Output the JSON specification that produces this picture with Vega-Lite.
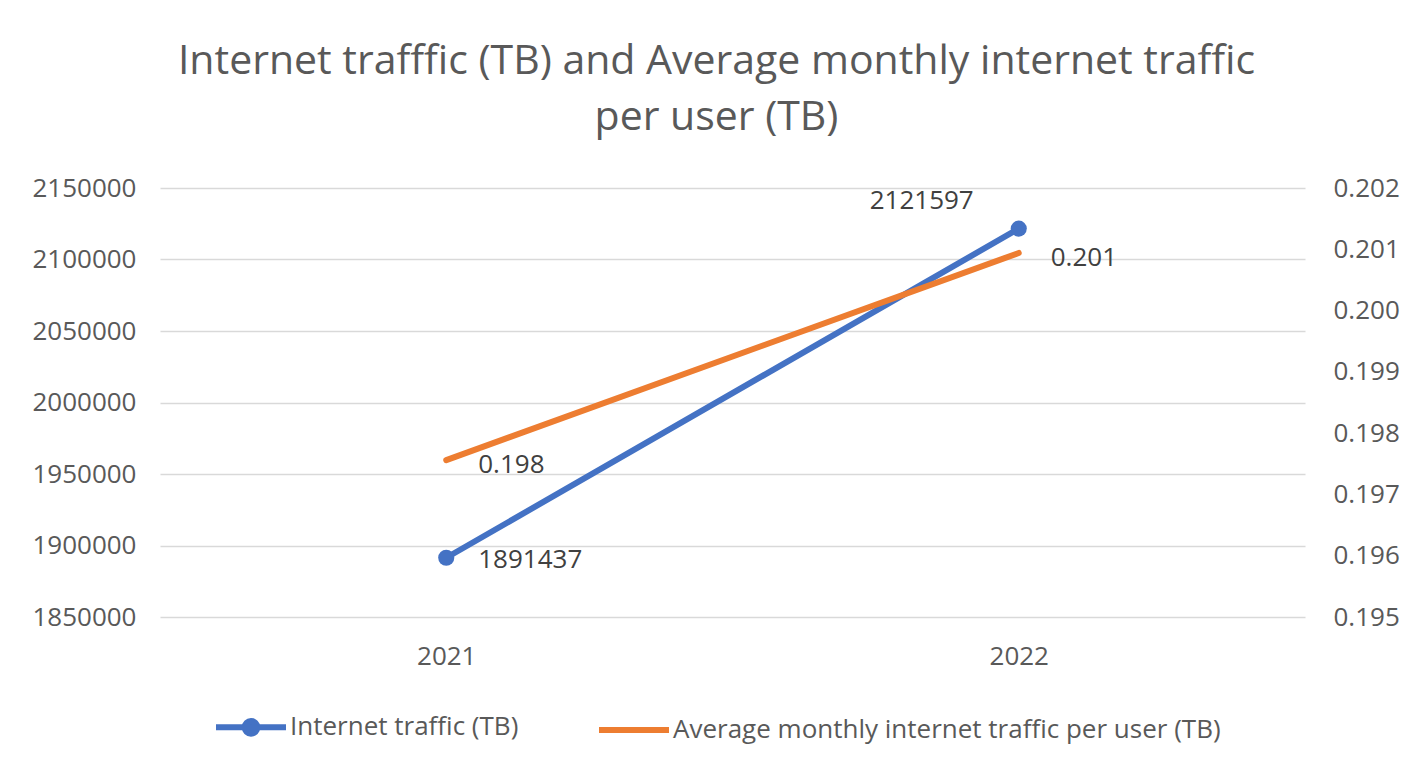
{
  "$schema": "https://vega.github.io/schema/vega-lite/v6.json",
  "width": 1145,
  "height": 429,
  "autosize": {"type": "none"},
  "padding": {"left": 160, "top": 188, "right": 104, "bottom": 155},
  "background": "white",
  "title": {
    "text": ["Internet trafffic (TB) and Average monthly internet traffic", "per user (TB)"],
    "font": "Open Sans",
    "fontSize": 41,
    "fontWeight": "normal",
    "color": "#595959",
    "lineHeight": 56,
    "anchor": "middle",
    "offset": 36,
    "dx": -16
  },
  "data": {
    "values": [
      {"year": "2021", "traffic": 1891437, "avg": 0.19756},
      {"year": "2022", "traffic": 2121597, "avg": 0.20094}
    ]
  },
  "encoding": {
    "x": {
      "field": "year",
      "type": "nominal",
      "scale": {"type": "point", "padding": 0.5},
      "axis": {
        "title": null,
        "labelAngle": 0,
        "domain": false,
        "ticks": false,
        "grid": false,
        "labelPadding": 26,
        "labelFont": "Open Sans",
        "labelFontSize": 26,
        "labelColor": "#595959"
      }
    }
  },
  "layer": [
    {
      "encoding": {
        "y": {
          "field": "traffic",
          "type": "quantitative",
          "scale": {"domain": [1850000, 2150000], "nice": false, "zero": false},
          "axis": {
            "title": null,
            "orient": "left",
            "values": [1850000, 1900000, 1950000, 2000000, 2050000, 2100000, 2150000],
            "format": "d",
            "domain": false,
            "ticks": false,
            "grid": true,
            "gridColor": "#D9D9D9",
            "gridWidth": 1.5,
            "labelPadding": 24,
            "labelFont": "Open Sans",
            "labelFontSize": 26,
            "labelColor": "#595959"
          }
        }
      },
      "layer": [
        {
          "mark": {"type": "line", "strokeWidth": 6, "strokeCap": "round"},
          "encoding": {
            "color": {
              "datum": "Internet traffic (TB)",
              "type": "nominal",
              "scale": {
                "domain": ["Internet traffic (TB)", "Average monthly internet traffic per user (TB)"],
                "range": ["#4472C4", "#ED7D31"]
              },
              "legend": {
                "title": null,
                "orient": "none",
                "legendX": 53,
                "legendY": 501,
                "direction": "horizontal",
                "symbolType": "stroke",
                "symbolSize": 4900,
                "symbolStrokeWidth": 6,
                "labelOffset": 1,
                "columnPadding": 68,
                "labelFont": "Open Sans",
                "labelFontSize": 26,
                "labelColor": "#595959",
                "labelLimit": 1000,
                "encode": {
                  "symbols": {
                    "update": {
                      "shape": {"signal": "datum.value === 'Internet traffic (TB)' ? 'M-1,0H1M-0.18,0a0.18,0.18 0 1,0 0.36,0a0.18,0.18 0 1,0 -0.36,0' : 'M-1,0H1'"},
                      "fill": {"signal": "datum.value === 'Internet traffic (TB)' ? '#4472C4' : 'transparent'"}
                    }
                  }
                }
              }
            }
          }
        },
        {
          "mark": {"type": "point", "filled": true, "size": 260, "opacity": 1, "color": "#4472C4"}
        },
        {
          "transform": [{"filter": "datum.year === '2021'"}],
          "mark": {"type": "text", "align": "left", "baseline": "middle", "dx": 32, "dy": 2, "font": "Open Sans", "fontSize": 26, "color": "#404040"},
          "encoding": {"text": {"field": "traffic", "type": "quantitative", "format": "d"}}
        },
        {
          "transform": [{"filter": "datum.year === '2022'"}],
          "mark": {"type": "text", "align": "right", "baseline": "middle", "dx": -45, "dy": -28, "font": "Open Sans", "fontSize": 26, "color": "#404040"},
          "encoding": {"text": {"field": "traffic", "type": "quantitative", "format": "d"}}
        }
      ]
    },
    {
      "encoding": {
        "y": {
          "field": "avg",
          "type": "quantitative",
          "scale": {"domain": [0.195, 0.202], "nice": false, "zero": false},
          "axis": {
            "title": null,
            "orient": "right",
            "values": [0.195, 0.196, 0.197, 0.198, 0.199, 0.2, 0.201, 0.202],
            "format": ".3f",
            "domain": false,
            "ticks": false,
            "grid": false,
            "labelPadding": 28,
            "labelFont": "Open Sans",
            "labelFontSize": 26,
            "labelColor": "#595959"
          }
        }
      },
      "layer": [
        {
          "mark": {"type": "line", "strokeWidth": 6, "strokeCap": "round"},
          "encoding": {
            "color": {
              "datum": "Average monthly internet traffic per user (TB)",
              "type": "nominal"
            }
          }
        },
        {
          "mark": {"type": "text", "align": "left", "baseline": "middle", "dx": 32, "dy": 5, "font": "Open Sans", "fontSize": 26, "color": "#404040"},
          "encoding": {"text": {"field": "avg", "type": "quantitative", "format": ".3f"}}
        }
      ]
    }
  ],
  "resolve": {"scale": {"y": "independent"}},
  "config": {"view": {"stroke": null}}
}
